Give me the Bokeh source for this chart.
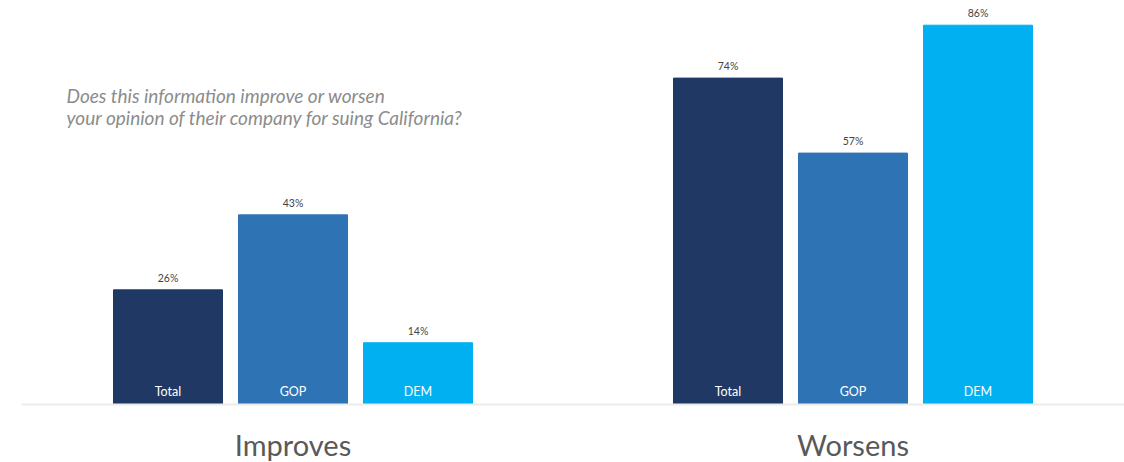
from bokeh.plotting import figure
from bokeh.models import FactorRange, Range1d, Span, Label, ColumnDataSource
from bokeh.core.properties import value
from bokeh.embed import file_html
from bokeh.resources import INLINE

groups = ["Improves", "Worsens"]
parties = ["Total", "GOP", "DEM"]
improves = [26, 43, 14]
worsens = [74, 57, 86]
colors = ["#1F3864", "#2E74B5", "#00B0F0"]
question = ["Does this information improve or worsen",
            "your opinion of their company for suing California?"]

factors = [(g, s) for g in groups for s in parties]
vals = improves + worsens
src = ColumnDataSource(dict(
    x=factors,
    top=vals,
    color=colors * 2,
    label=[f"{v}%" for v in vals],
    party=parties * 2,
    zero=[0] * len(vals),
))

LEFT = 21
xr = FactorRange(*factors, factor_padding=0.0, group_padding=1.48,
                 range_padding=0.672, range_padding_units="absolute")
p = figure(width=1124, height=462, x_range=xr, y_range=Range1d(-13.15, 91.6),
           output_backend="svg", toolbar_location=None,
           min_border_left=LEFT, min_border_right=0, min_border_top=0, min_border_bottom=0)
p.axis.visible = False
p.grid.visible = False
p.outline_line_color = None
p.background_fill_color = "white"
p.border_fill_color = "white"

p.add_layout(Span(location=0, dimension="width", line_color="#ececec", line_width=2))

p.vbar(x="x", top="top", width=0.872, source=src, fill_color="color",
       line_color="color", line_width=1)

font = value("Lato")
p.text(x="x", y="top", text="label", source=src, text_font=font,
       text_font_size="10.5px", text_color="#444444", text_align="center",
       text_baseline="bottom", y_offset=-6)
p.text(x="x", y="zero", text="party", source=src, text_font=font,
       text_font_size="12.5px", text_color="white", text_align="center",
       text_baseline="middle", y_offset=-13)

gsrc = ColumnDataSource(dict(x=[(g, "GOP") for g in groups], y=[-9] * len(groups), t=groups))
p.text(x="x", y="y", text="t", source=gsrc, text_font=font,
       text_font_size="29px", text_color="#595959", text_align="center",
       text_baseline="middle")

for i, line in enumerate(question):
    p.add_layout(Label(x=66 - LEFT, y=462 - 95 - 22 * i, x_units="screen", y_units="screen",
                       text=line, text_font="Lato", text_font_style="italic",
                       text_font_size="19px", text_color="#8c8c8c",
                       text_baseline="middle", text_align="left"))

open("out.html", "w").write(file_html(p, INLINE))
